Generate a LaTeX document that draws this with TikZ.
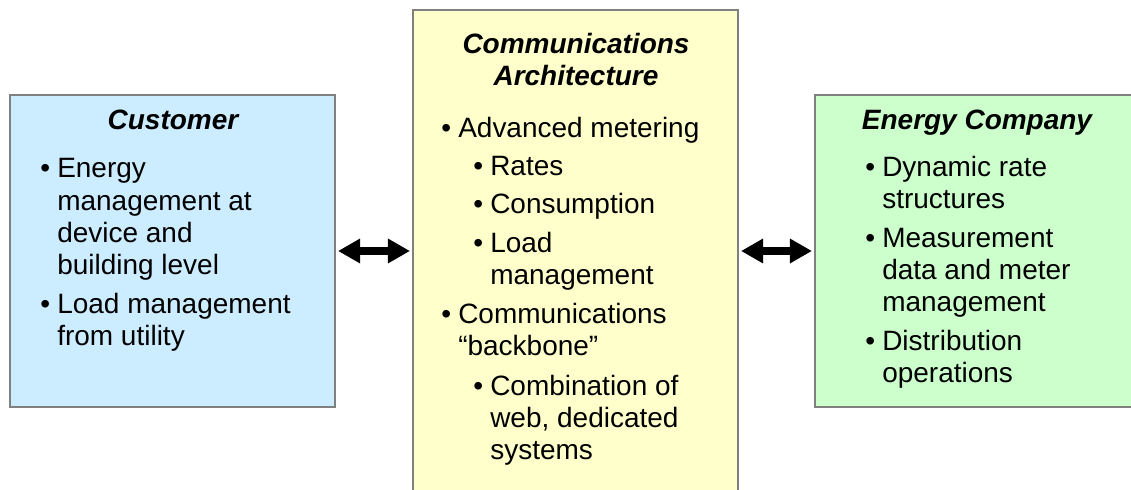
\documentclass[tikz,border=0pt]{standalone}
\usepackage{fontspec}
\setmainfont{Liberation Sans}
\usetikzlibrary{positioning, arrows.meta}

\definecolor{custblue}{RGB}{204,236,255}
\definecolor{commyellow}{RGB}{255,255,204}
\definecolor{compgreen}{RGB}{204,255,204}
\definecolor{boxgray}{RGB}{128,128,128}

\newcommand{\itembullet}{\llap{\textbullet\hspace{5pt}}}

\begin{document}
\begin{tikzpicture}[
    x=0.025cm, y=-0.025cm, % one unit per pixel
    font=\fontsize{19.9}{23.1}\selectfont,
    box/.style={draw=boxgray, line width=1.4pt, inner sep=0pt},
    title/.style={anchor=base, align=center, inner sep=0pt, font=\fontsize{19.9}{23.1}\selectfont\bfseries\itshape},
    item/.style={anchor=base west, align=left, inner sep=0pt}, % placed at the baseline of the last line
    biarrow/.style={{Triangle[length=0.55cm,width=0.58cm]}-{Triangle[length=0.55cm,width=0.58cm]}, line width=5pt, shorten <=0.05cm, shorten >=0.05cm}
]
\useasboundingbox (0,0) rectangle (1131,490);

% Boxes
\node[box, fill=custblue, minimum width=8.125cm, minimum height=7.8cm] (cust) at (172.5,251) {};
\node[box, fill=commyellow, minimum width=8.125cm, minimum height=12.15cm] (comm) at (575.5,253) {};
\node[box, fill=compgreen, minimum width=8.125cm, minimum height=7.8cm] (energy) at (977.5,251) {};

% Customer
\node[title] (custT) at (173,130) {Customer};
\node[item] (cust1) at (57,275) {\itembullet Energy\\management at\\device and\\building level};
\node[item] (cust2) at (57,346) {\itembullet Load management\\from utility};

% Communications architecture
\node[title] (commT) at (576,86) {Communications\\Architecture};
\node[item] (comm1) at (458,138) {\itembullet Advanced metering};
\node[item] (comm1a) at (490,176) {\itembullet Rates};
\node[item] (comm1b) at (490,214) {\itembullet Consumption};
\node[item] (comm1c) at (490,285) {\itembullet Load\\management};
\node[item] (comm2) at (458,356) {\itembullet Communications\\“backbone”};
\node[item] (comm2a) at (490,460) {\itembullet Combination of\\web, dedicated\\systems};

% Energy company
\node[title] (energyT) at (977,130) {Energy Company};
\node[item] (energy1) at (882,209) {\itembullet Dynamic rate\\structures};
\node[item] (energy2) at (882,312) {\itembullet Measurement\\data and meter\\management};
\node[item] (energy3) at (882,383) {\itembullet Distribution\\operations};

% Links
\draw[biarrow] (cust.east) -- (cust.east -| comm.west);
\draw[biarrow] (energy.west -| comm.east) -- (energy.west);

\end{tikzpicture}
\end{document}
